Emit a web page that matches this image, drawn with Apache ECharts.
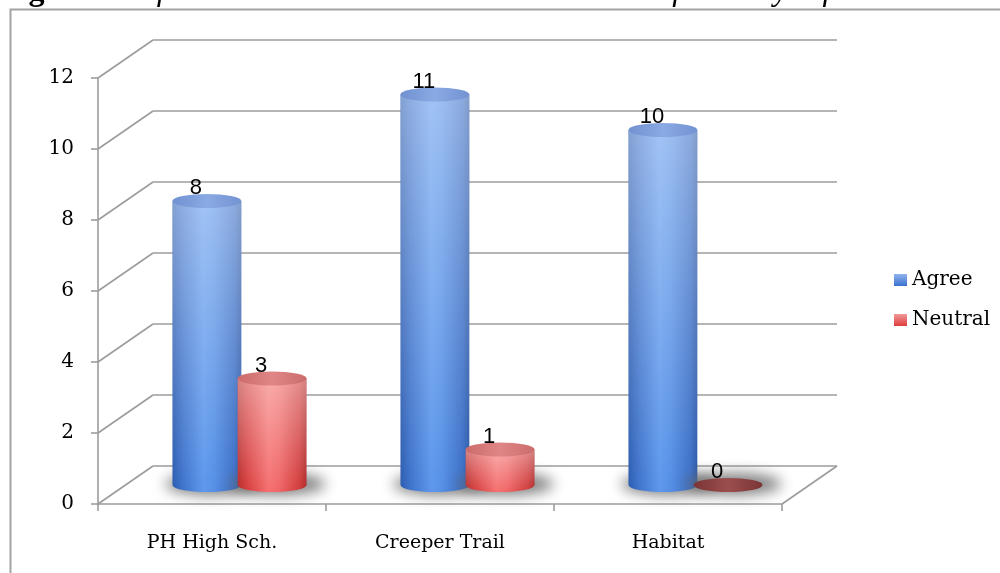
<!DOCTYPE html>
<html><head><meta charset="utf-8">
<script src="https://cdn.jsdelivr.net/npm/echarts@6.0.0/dist/echarts.min.js"></script>
<style>html,body{margin:0;padding:0;background:#fff}#c{width:1000px;height:573px}</style>
</head><body><div id="c"></div>
<script>
const titleBold = 'Figure 2.';
const titleItalic = 'Information Learned in this Course is Useful in My Life';
const categories = ['PH High Sch.', 'Creeper Trail', 'Habitat'];
const seriesNames = ['Agree', 'Neutral'];
const agree = [8, 11, 10];
const neutral = [3, 1, 0];
const yTicks = [0, 2, 4, 6, 8, 10, 12];

const DX = 55, DY = -38;
const G = echarts.graphic;

function ellipsePath(cx, cy, rx, ry) {
  return `M ${cx - rx} ${cy} A ${rx} ${ry} 0 0 0 ${cx + rx} ${cy} A ${rx} ${ry} 0 0 0 ${cx - rx} ${cy} Z`;
}
function bodyPath(xl, xr, yt, yb, rx, ry) {
  return `M ${xl} ${yt} L ${xl} ${yb} A ${rx} ${ry} 0 0 0 ${xr} ${yb} L ${xr} ${yt} Z`;
}

const palettes = [
  {
    body: [[0, '#2b5cb0'], [0.15, '#3f74cc'], [0.45, '#5e98ec'], [0.6, '#5590e6'], [0.9, '#3a6ec6'], [1, '#2a58a8']],
    top: [[0, '#7090d0'], [0.5, '#8aaae4'], [1, '#7392d2']],
    flat: [[0, '#6a3030'], [1, '#6a3030']]
  },
  {
    body: [[0, '#b82a2a'], [0.15, '#d84040'], [0.45, '#f57070'], [0.6, '#f06666'], [0.9, '#d03a3a'], [1, '#b02828']],
    top: [[0, '#cc6a6a'], [0.5, '#e08686'], [1, '#cc6c6c']],
    flat: [[0, '#7a3434'], [0.5, '#9c4e4e'], [1, '#7a3434']]
  }
];

function wallRender(params, api) {
  const v = api.value(1);
  const p = api.coord([0, v]);
  const bw = api.size([1, 0])[0];
  const xl = p[0] - bw / 2, xr = xl + bw * categories.length, y = p[1];
  const ls = { stroke: '#9c9c9c', lineWidth: 1.6 };
  const ch = [
    { type: 'line', shape: { x1: xl, y1: y, x2: xl + DX, y2: y + DY }, style: ls },
    { type: 'line', shape: { x1: xl + DX, y1: y + DY, x2: xr + DX, y2: y + DY }, style: ls }
  ];
  if (v === 0) ch.push({ type: 'line', shape: { x1: xr, y1: y, x2: xr + DX, y2: y + DY }, style: ls });
  return { type: 'group', children: ch };
}

const FAR = 3000;
function cylRender(sIdx) {
  const pal = palettes[sIdx];
  return function (params, api) {
    const idx = api.value(0), val = api.value(1);
    const base = api.coord([idx, 0]);
    const top = api.coord([idx, val]);
    const bw = api.size([1, 0])[0];
    const w = bw * 0.302, rx = w / 2, ry = 7;
    const cx = base[0] + (sIdx === 0 ? -1 : 1) * bw * 0.143 + DX / 2;
    const yb = base[1] + DY / 2, yt = top[1] + DY / 2;
    const xl = cx - rx, xr = cx + rx;
    const ch = [];
    ch.push({ type: 'path', shape: { pathData: ellipsePath(cx + 6 - FAR, yb - 1, rx + 13, ry + 4) },
      style: { fill: '#808080', shadowBlur: 14, shadowOffsetX: FAR, shadowOffsetY: 0, shadowColor: 'rgba(105,105,105,0.85)' } });
    if (val > 0) {
      ch.push({ type: 'path', shape: { pathData: bodyPath(xl, xr, yt, yb, rx, ry) },
        style: { fill: new G.LinearGradient(0, 0, 1, 0, pal.body.map(s => ({ offset: s[0], color: s[1] }))) } });
      ch.push({ type: 'path', shape: { pathData: bodyPath(xl, xr, yt, yb, rx, ry) },
        style: { fill: new G.LinearGradient(0, 0, 0, 1, [{ offset: 0, color: 'rgba(255,255,255,0.42)' }, { offset: 1, color: 'rgba(255,255,255,0)' }]) } });
      ch.push({ type: 'path', shape: { pathData: ellipsePath(cx, yt, rx, ry) },
        style: { fill: new G.LinearGradient(0, 0, 1, 0, pal.top.map(s => ({ offset: s[0], color: s[1] }))) } });
    } else {
      ch.push({ type: 'path', shape: { pathData: ellipsePath(cx, yb, rx, ry) },
        style: { fill: new G.LinearGradient(0, 0, 1, 0, pal.flat.map(s => ({ offset: s[0], color: s[1] }))) } });
    }
    ch.push({ type: 'text', x: cx - 11, y: yt - ry + 5,
      style: { text: String(val), font: '22px "Liberation Sans"', fill: '#000',
        align: 'center', verticalAlign: 'bottom', textAlign: 'center', textVerticalAlign: 'bottom' } });
    return { type: 'group', children: ch };
  };
}

const axisGray = '#9c9c9c';
const option = {
  animation: false,
  backgroundColor: '#ffffff',
  graphic: [
    { type: 'rect', silent: true, z: -10, shape: { x: 10.5, y: 9.5, width: 1000, height: 600 },
      style: { fill: 'none', stroke: '#a3a3a3', lineWidth: 2 } },
    { type: 'text', silent: true, x: 0, y: -8,
      style: { text: '{b|' + titleBold + '} {i|' + titleItalic + '}',
        verticalAlign: 'middle', textVerticalAlign: 'middle',
        rich: {
          b: { font: 'bold 32px "Liberation Serif"', fill: '#000' },
          i: { font: 'italic 32px "Liberation Serif"', fill: '#000' }
        },
        font: '32px "Liberation Serif"', fill: '#000' } }
  ],
  grid: { left: 98, top: 78, width: 684, height: 426 },
  legend: {
    orient: 'vertical', left: 889, top: 265, itemWidth: 13, itemHeight: 12, itemGap: 20, icon: 'rect',
    textStyle: { fontFamily: 'DejaVu Serif', fontSize: 20, color: '#000' },
    data: [
      { name: seriesNames[0], itemStyle: { color: new G.LinearGradient(0, 0, 0, 1, [{ offset: 0, color: '#8fb3ee' }, { offset: 1, color: '#3b72d0' }]) } },
      { name: seriesNames[1], itemStyle: { color: new G.LinearGradient(0, 0, 0, 1, [{ offset: 0, color: '#f19a9a' }, { offset: 1, color: '#de3c3c' }]) } }
    ]
  },
  xAxis: {
    type: 'category', data: categories, boundaryGap: true,
    axisLine: { show: true, lineStyle: { color: axisGray, width: 1.6 } },
    axisTick: { show: true, alignWithLabel: false, interval: 0, length: 7, lineStyle: { color: axisGray, width: 1.6 } },
    axisLabel: { margin: 30, color: '#000', fontFamily: 'DejaVu Serif', fontSize: 19, interval: 0 },
    splitLine: { show: false }
  },
  yAxis: {
    type: 'value', min: 0, max: 12, interval: 2,
    axisLine: { show: true, lineStyle: { color: axisGray, width: 1.6 } },
    axisTick: { show: true, length: 7, lineStyle: { color: axisGray, width: 1.6 } },
    axisLabel: { margin: 24, color: '#000', fontFamily: 'DejaVu Serif', fontSize: 20 },
    splitLine: { show: false }
  },
  series: [
    { type: 'custom', name: '_walls', silent: true, z: 1, renderItem: wallRender,
      data: yTicks.map(v => [0, v]), encode: { x: 0, y: 1 } },
    { type: 'custom', name: seriesNames[0], z: 3, renderItem: cylRender(0), itemStyle: { color: '#4a80d8' },
      data: agree.map((v, i) => [i, v]), encode: { x: 0, y: 1 } },
    { type: 'custom', name: seriesNames[1], z: 4, renderItem: cylRender(1), itemStyle: { color: '#e05858' },
      data: neutral.map((v, i) => [i, v]), encode: { x: 0, y: 1 } }
  ]
};
const chart = echarts.init(document.getElementById('c'));
chart.setOption(option);
</script>
</body></html>
